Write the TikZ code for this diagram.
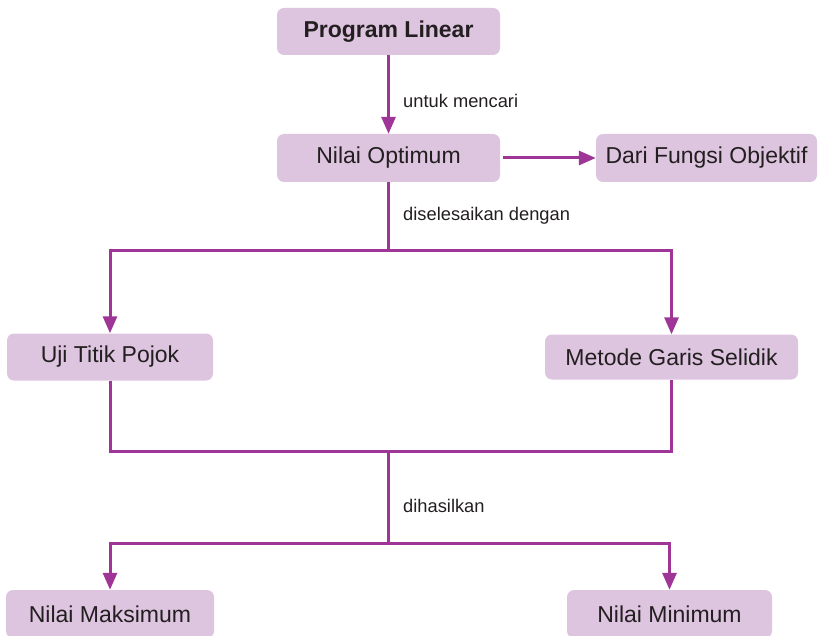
\documentclass[tikz,border=0pt]{standalone}
\usepackage{fontspec}
\setmainfont{Liberation Sans}
\usepackage{tikz}
\usetikzlibrary{arrows.meta}
\definecolor{boxfill}{HTML}{DDC4DF}
\definecolor{flowline}{HTML}{9E3597}
\definecolor{ink}{HTML}{231F20}
\tikzset{
  konsep/.style={fill=boxfill, draw=none, rounded corners=7pt, inner sep=0pt,
    text=ink, font=\fontsize{23}{27}\selectfont},
  ket/.style={anchor=west, inner sep=0pt, text=ink, font=\fontsize{18.3}{22}\selectfont},
  alur/.style={draw=flowline, line width=3pt},
  panah/.style={alur, -{Triangle[length=17pt,width=14pt]}}
}

\begin{document}
\begin{tikzpicture}[x=1pt, y=-1pt]
    \clip (0, 0) rectangle (818, 636);
    % kotak konsep
    \node[konsep, minimum width=223pt, minimum height=47pt, font=\fontsize{23}{27}\selectfont\bfseries] (prog) at (388.5, 31.5) {Program Linear};
    \node[konsep, minimum width=223pt, minimum height=48pt] (opt) at (388.5, 158) {Nilai Optimum};
    \node[konsep, minimum width=221pt, minimum height=48pt] (obj) at (706.5, 158) {Dari Fungsi Objektif};
    \node[konsep, minimum width=206pt, minimum height=47pt] (uji) at (110, 357) {Uji Titik Pojok};
    \node[konsep, minimum width=253pt, minimum height=45pt] (metode) at (671.5, 357) {Metode Garis Selidik};
    \node[konsep, minimum width=208pt, minimum height=48pt] (maks) at (110, 614) {Nilai Maksimum};
    \node[konsep, minimum width=205pt, minimum height=48pt] (mini) at (669.5, 614) {Nilai Minimum};
    % titik cabang
    \coordinate (cab1) at (388.5, 250);
    \coordinate (cab2) at (388.5, 451);
    \coordinate (cab3) at (388.5, 543);
    % keterangan
    \node[ket] (untuk) at (403, 101) {untuk mencari};
    \node[ket] (selesai) at (403, 216) {diselesaikan dengan};
    \node[ket] (hasil) at (403, 506) {dihasilkan};
    % alur
    \draw[panah] (prog) -- (opt);
    \draw[panah, shorten <=3pt] (opt) -- (obj);
    \draw[alur] (opt) -- (cab1);
    \draw[panah] (cab1) -| (uji);
    \draw[panah] (cab1) -| (metode);
    \draw[alur] (uji) |- (cab2) -| (metode);
    \draw[alur] (cab2) -- (cab3);
    \draw[panah] (cab3) -| (maks);
    \draw[panah] (cab3) -| (mini);
  \end{tikzpicture}
\end{document}
